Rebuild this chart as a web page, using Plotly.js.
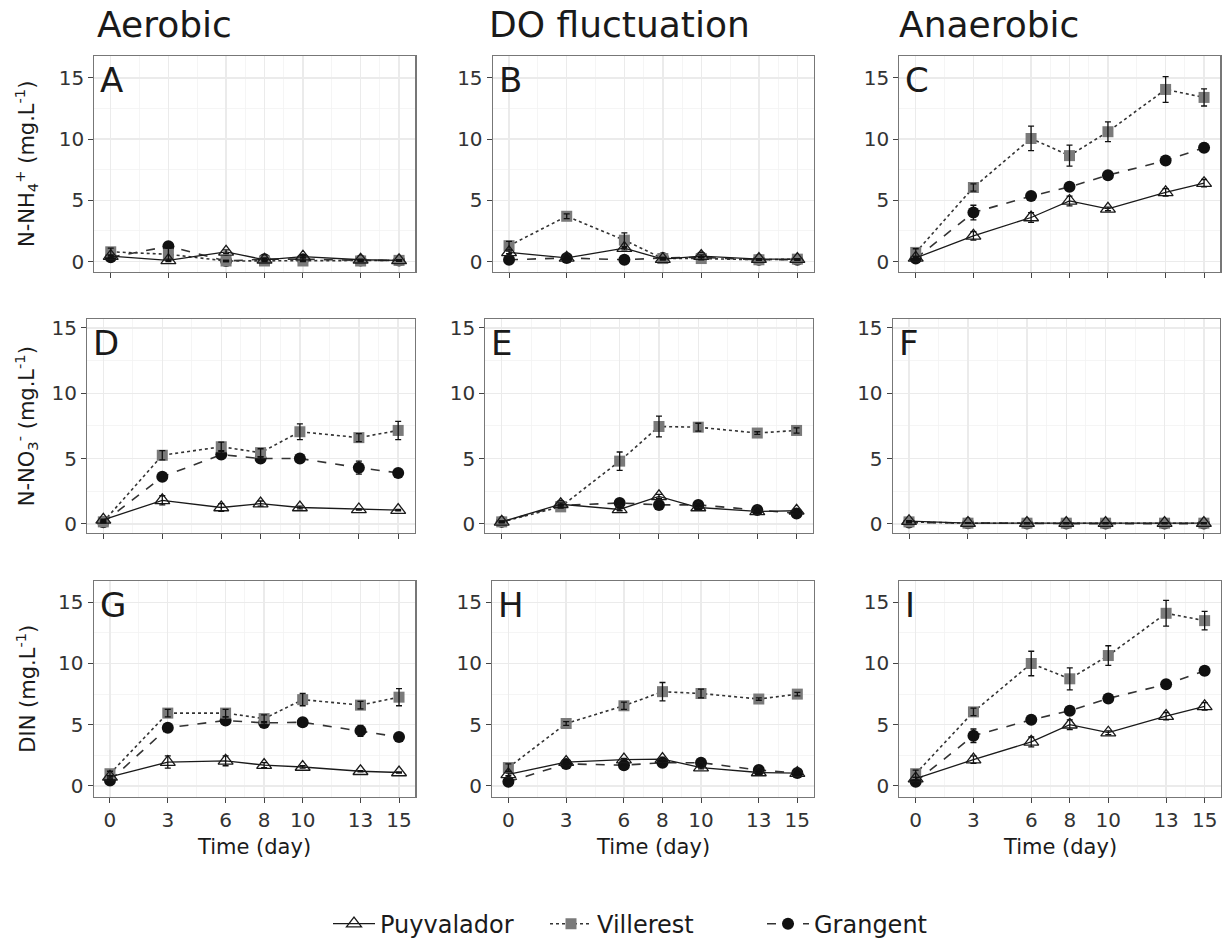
<!DOCTYPE html>
<html>
<head>
<meta charset="utf-8">
<script src="https://cdn.plot.ly/plotly-3.0.1.min.js"></script>
<style>
html,body{margin:0;padding:0;background:#fff;}
#chart{width:1223px;height:947px;}
</style>
</head>
<body>
<div id="chart"></div>
<script>
// ---------- DATA ----------
const days = [0, 3, 6, 8, 10, 13, 15];
const dayLabels = ["0", "3", "6", "8", "10", "13", "15"];
const yTicks = [0, 5, 10, 15];
const seriesNames = ["Puyvalador", "Villerest", "Grangent"];
const columnTitles = ["Aerobic", "DO fluctuation", "Anaerobic"];
const panelLetters = ["A", "B", "C", "D", "E", "F", "G", "H", "I"];
const yTitles = ["N-NH<sub>4</sub><sup>+</sup> (mg.L<sup>-1</sup>)",
                 "N-NO<sub>3</sub><sup>-</sup> (mg.L<sup>-1</sup>)",
                 "DIN (mg.L<sup>-1</sup>)"];
const xTitle = "Time (day)";

// Panel A (Aerobic, NH4)
const A_puy = [0.45, 0.1, 0.8, 0.15, 0.4, 0.15, 0.1];
const A_puy_err = [0.1, 0.1, 0.15, 0.1, 0.1, 0.05, 0.05];
const A_vil = [0.8, 0.6, 0.05, 0.05, 0.05, 0.05, 0.1];
const A_vil_err = [0.3, 0.5, 0.05, 0.05, 0.05, 0.05, 0.05];
const A_gra = [0.35, 1.25, 0.05, 0.2, 0.2, 0.1, 0.1];
const A_gra_err = [0.1, 0.15, 0.05, 0.1, 0.1, 0.05, 0.05];
// Panel B (DO fluctuation, NH4)
const B_puy = [0.75, 0.3, 1.1, 0.2, 0.45, 0.2, 0.2];
const B_puy_err = [0.1, 0.1, 0.15, 0.05, 0.1, 0.05, 0.05];
const B_vil = [1.3, 3.7, 1.75, 0.25, 0.25, 0.15, 0.2];
const B_vil_err = [0.35, 0.2, 0.6, 0.1, 0.1, 0.05, 0.05];
const B_gra = [0.15, 0.3, 0.15, 0.3, 0.35, 0.15, 0.15];
const B_gra_err = [0.05, 0.05, 0.05, 0.05, 0.05, 0.05, 0.05];
// Panel C (Anaerobic, NH4)
const C_puy = [0.3, 2.1, 3.6, 4.95, 4.3, 5.65, 6.4];
const C_puy_err = [0.1, 0.35, 0.4, 0.4, 0.15, 0.3, 0.3];
const C_vil = [0.75, 6.05, 10.05, 8.65, 10.6, 14.05, 13.4];
const C_vil_err = [0.3, 0.3, 1.0, 0.85, 0.8, 1.05, 0.7];
const C_gra = [0.25, 4.0, 5.35, 6.1, 7.05, 8.25, 9.3];
const C_gra_err = [0.1, 0.6, 0.3, 0.2, 0.15, 0.15, 0.35];
// Panel D (Aerobic, NO3)
const D_puy = [0.3, 1.8, 1.25, 1.55, 1.25, 1.1, 1.05];
const D_puy_err = [0.05, 0.35, 0.3, 0.2, 0.1, 0.05, 0.05];
const D_vil = [0.15, 5.25, 5.9, 5.45, 7.05, 6.6, 7.15];
const D_vil_err = [0.05, 0.35, 0.35, 0.3, 0.6, 0.3, 0.7];
const D_gra = [0.12, 3.6, 5.3, 5.0, 5.0, 4.3, 3.9];
const D_gra_err = [0.05, 0.1, 0.3, 0.1, 0.1, 0.5, 0.1];
// Panel E (DO fluctuation, NO3)
const E_puy = [0.15, 1.5, 1.1, 2.1, 1.25, 0.95, 1.0];
const E_puy_err = [0.05, 0.1, 0.1, 0.15, 0.1, 0.05, 0.05];
const E_vil = [0.15, 1.3, 4.8, 7.45, 7.4, 6.95, 7.15];
const E_vil_err = [0.05, 0.1, 0.7, 0.8, 0.3, 0.1, 0.2];
const E_gra = [0.15, 1.4, 1.6, 1.45, 1.45, 1.05, 0.8];
const E_gra_err = [0.05, 0.1, 0.1, 0.1, 0.1, 0.05, 0.05];
// Panel F (Anaerobic, NO3)
const F_puy = [0.2, 0.05, 0.05, 0.05, 0.05, 0.05, 0.05];
const F_puy_err = [0.05, 0.02, 0.02, 0.02, 0.02, 0.02, 0.02];
const F_vil = [0.15, 0.05, 0.05, 0.05, 0.05, 0.05, 0.05];
const F_vil_err = [0.05, 0.02, 0.02, 0.02, 0.02, 0.02, 0.02];
const F_gra = [0.1, 0.05, 0.02, 0.02, 0.02, 0.02, 0.02];
const F_gra_err = [0.02, 0.02, 0.02, 0.02, 0.02, 0.02, 0.02];
// Panel G (Aerobic, DIN)
const G_puy = [0.75, 1.95, 2.05, 1.7, 1.55, 1.2, 1.1];
const G_puy_err = [0.1, 0.5, 0.4, 0.2, 0.1, 0.05, 0.05];
const G_vil = [1.0, 5.95, 5.95, 5.5, 7.05, 6.6, 7.25];
const G_vil_err = [0.2, 0.3, 0.3, 0.3, 0.5, 0.3, 0.7];
const G_gra = [0.45, 4.75, 5.35, 5.15, 5.2, 4.5, 4.0];
const G_gra_err = [0.1, 0.1, 0.3, 0.1, 0.1, 0.45, 0.1];
// Panel H (DO fluctuation, DIN)
const H_puy = [0.95, 1.95, 2.15, 2.2, 1.5, 1.1, 1.05];
const H_puy_err = [0.1, 0.1, 0.1, 0.15, 0.1, 0.05, 0.05];
const H_vil = [1.5, 5.1, 6.55, 7.7, 7.55, 7.1, 7.5];
const H_vil_err = [0.3, 0.15, 0.3, 0.75, 0.35, 0.1, 0.15];
const H_gra = [0.35, 1.8, 1.7, 1.9, 1.9, 1.3, 1.05];
const H_gra_err = [0.05, 0.1, 0.1, 0.1, 0.1, 0.05, 0.05];
// Panel I (Anaerobic, DIN)
const I_puy = [0.6, 2.15, 3.6, 5.0, 4.35, 5.7, 6.5];
const I_puy_err = [0.1, 0.3, 0.4, 0.4, 0.15, 0.3, 0.3];
const I_vil = [1.0, 6.05, 10.0, 8.75, 10.65, 14.1, 13.5];
const I_vil_err = [0.3, 0.3, 1.0, 0.9, 0.8, 1.05, 0.75];
const I_gra = [0.35, 4.1, 5.4, 6.15, 7.15, 8.3, 9.4];
const I_gra_err = [0.1, 0.55, 0.3, 0.2, 0.15, 0.15, 0.35];

// ---------- BUILD ----------
const panels = [
  [A_puy, A_puy_err, A_vil, A_vil_err, A_gra, A_gra_err],
  [B_puy, B_puy_err, B_vil, B_vil_err, B_gra, B_gra_err],
  [C_puy, C_puy_err, C_vil, C_vil_err, C_gra, C_gra_err],
  [D_puy, D_puy_err, D_vil, D_vil_err, D_gra, D_gra_err],
  [E_puy, E_puy_err, E_vil, E_vil_err, E_gra, E_gra_err],
  [F_puy, F_puy_err, F_vil, F_vil_err, F_gra, F_gra_err],
  [G_puy, G_puy_err, G_vil, G_vil_err, G_gra, G_gra_err],
  [H_puy, H_puy_err, H_vil, H_vil_err, H_gra, H_gra_err],
  [I_puy, I_puy_err, I_vil, I_vil_err, I_gra, I_gra_err]
];

const W = 1223, H = 947;
const FONT = "DejaVu Sans, Verdana, sans-serif";
const rowBoxes = [
  {top: 56, bottom: 273.3, yr: [-0.86, 16.8], xr: [-0.85, 15.85],
   cols: [[94.4, 415.4], [492.7, 813.7], [899.4, 1220.4]]},
  {top: 320.5, bottom: 535.5, yr: [-0.72, 15.67], xr: [-0.83, 15.83],
   cols: [[87, 414.5], [485.4, 812.9], [892.7, 1220.2]]},
  {top: 583.3, bottom: 800, yr: [-0.87, 16.75], xr: [-0.85, 15.85],
   cols: [[93.6, 415.4], [492, 813.7], [899.3, 1221]]}
];

const styles = {
  Puyvalador: {line: {color: "#1a1a1a", width: 1.3, dash: "solid"},
               marker: {symbol: "triangle-up-open", size: 13, color: "#1a1a1a", line: {width: 1.3, color: "#1a1a1a"}}},
  Villerest: {line: {color: "#333333", width: 1.6, dash: "dot"},
              marker: {symbol: "square", size: 11, color: "#7a7a7a", line: {width: 0}}},
  Grangent: {line: {color: "#333333", width: 1.6, dash: "dash"},
             marker: {symbol: "circle", size: 12, color: "#111111", line: {width: 0}}}
};

const layout = {
  width: W, height: H,
  margin: {l: 0, r: 0, t: 0, b: 0},
  paper_bgcolor: "#ffffff", plot_bgcolor: "#ffffff",
  font: {family: FONT, color: "#1a1a1a"},
  showlegend: true,
  legend: {orientation: "h", x: 328 / W, xanchor: "left", y: 1 - 928 / H, yanchor: "middle",
           font: {family: FONT, size: 24, color: "#1a1a1a"}, itemwidth: 42, traceorder: "normal",
           entrywidth: 160, entrywidthmode: "pixels",
           bgcolor: "rgba(0,0,0,0)"},
  annotations: []
};

const dataTraces = [];
const errTraces = [];
const drawOrder = [2, 1, 0]; // Grangent, Villerest, Puyvalador

for (let p = 0; p < 9; p++) {
  const r = Math.floor(p / 3), c = p % 3;
  const rb = rowBoxes[r];
  const xb = rb.cols[c];
  const id = p + 1;
  const xk = "xaxis" + (id === 1 ? "" : id), yk = "yaxis" + (id === 1 ? "" : id);
  const xref = "x" + (id === 1 ? "" : id), yref = "y" + (id === 1 ? "" : id);
  layout[xk] = {
    domain: [xb[0] / W, xb[1] / W], anchor: yref, range: rb.xr,
    tickmode: "array", tickvals: days, ticktext: dayLabels,
    showticklabels: r === 2, ticks: "outside", ticklen: 5, tickwidth: 1, tickcolor: "#444",
    tickfont: {family: FONT, size: 20, color: "#333"},
    showline: true, mirror: true, linecolor: "#777", linewidth: 1.1,
    showgrid: true, gridcolor: "#ebebeb", gridwidth: 1.4, zeroline: false,
    minor: {tickmode: "array", tickvals: [1.5, 4.5, 7, 9, 11.5, 14], showgrid: true,
            gridcolor: "#f3f3f3", gridwidth: 0.8, ticks: ""},
    fixedrange: true
  };
  layout[yk] = {
    domain: [1 - rb.bottom / H, 1 - rb.top / H], anchor: xref, range: rb.yr,
    tickmode: "array", tickvals: yTicks, ticktext: yTicks.map(String),
    ticks: "outside", ticklen: 5, tickwidth: 1, tickcolor: "#444",
    tickfont: {family: FONT, size: 20, color: "#333"},
    showline: true, mirror: true, linecolor: "#777", linewidth: 1.1,
    showgrid: true, gridcolor: "#ebebeb", gridwidth: 1.4, zeroline: false,
    minor: {tickmode: "array", tickvals: [2.5, 7.5, 12.5], showgrid: true,
            gridcolor: "#f3f3f3", gridwidth: 0.8, ticks: ""},
    fixedrange: true
  };
  const arr = panels[p];
  drawOrder.forEach(s => {
    const name = seriesNames[s];
    const st = styles[name];
    dataTraces.push({
      type: "scatter", mode: "lines+markers", x: days, y: arr[s * 2],
      xaxis: xref, yaxis: yref, name: name, legendgroup: name,
      showlegend: p === 0, legendrank: s + 1,
      line: st.line, marker: st.marker, hoverinfo: "skip", cliponaxis: false
    });
    errTraces.push({
      type: "scatter", mode: "markers", x: days, y: arr[s * 2],
      xaxis: xref, yaxis: yref, showlegend: false, hoverinfo: "skip",
      marker: {size: 1, color: "rgba(0,0,0,0)"},
      error_y: {type: "data", array: arr[s * 2 + 1], visible: true, color: "#111", thickness: 1.3, width: 3}
    });
  });
  layout.annotations.push({
    xref: xref + " domain", yref: yref + " domain", x: 0, y: 1, xanchor: "left", yanchor: "top",
    xshift: 4, yshift: -2, text: panelLetters[p], showarrow: false,
    font: {family: FONT, size: 34, color: "#1a1a1a"}
  });
  if (r === 2) {
    layout.annotations.push({
      xref: xref + " domain", yref: "paper", x: 0.5, y: 1 - 851 / H, xanchor: "center", yanchor: "middle",
      text: xTitle, showarrow: false, font: {family: FONT, size: 21, color: "#1a1a1a"}
    });
  }
  if (c === 0) {
    layout.annotations.push({
      xref: "paper", yref: yref + " domain", x: 26 / W, y: 0.5, xanchor: "center", yanchor: "middle",
      text: yTitles[r], textangle: -90, showarrow: false, font: {family: FONT, size: 21, color: "#1a1a1a"}
    });
  }
}
const titleX = [95, 487, 897];
columnTitles.forEach((t, i) => {
  layout.annotations.push({
    xref: "paper", yref: "paper", x: titleX[i] / W, y: 1 - 25 / H, xanchor: "left", yanchor: "middle",
    text: t, showarrow: false, font: {family: FONT, size: 36, color: "#1a1a1a"}
  });
});

Plotly.newPlot("chart", dataTraces.concat(errTraces), layout, {displayModeBar: false, staticPlot: true});
</script>
</body>
</html>
